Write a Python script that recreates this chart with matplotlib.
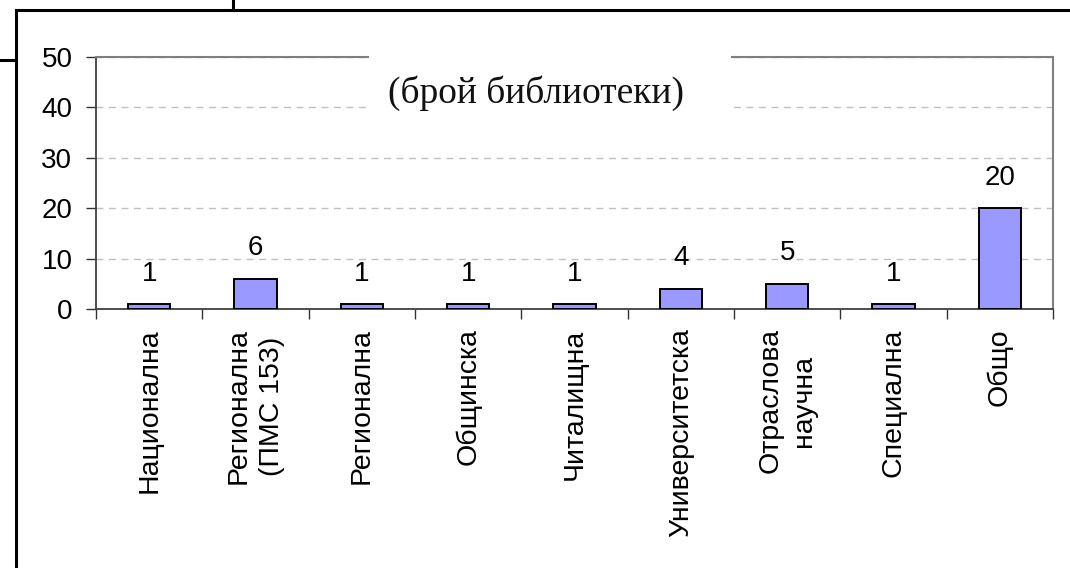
import matplotlib
matplotlib.use("Agg")
import matplotlib.pyplot as plt
from matplotlib.lines import Line2D
from matplotlib.patches import Rectangle
import numpy as np

categories = ["Национална", "Регионална\n(ПМС 153)", "Регионална", "Общинска",
              "Читалищна", "Университетска", "Отраслова\nнаучна", "Специална", "Общо"]
values = [1, 6, 1, 1, 1, 4, 5, 1, 20]
yticks = [0, 10, 20, 30, 40, 50]
title = "(брой библиотеки)"

plt.rcParams['font.family'] = ['Liberation Sans', 'DejaVu Sans']

fig = plt.figure(figsize=(10.7, 5.68), dpi=100)
fig.patch.set_facecolor('white')
ax = fig.add_axes([96/1070, 1-309/568, (1053-96)/1070, (309-57)/568])

x = np.arange(len(categories))
ax.bar(x, values, width=0.4, color='#9999FF', edgecolor='black', linewidth=1.4, zorder=3)

for xi, v in zip(x, values):
    ax.annotate(str(v), (xi, v), xytext=(0, 12.5), textcoords='offset points',
                ha='center', va='bottom', fontsize=20, color='black')

ax.set_xlim(-0.5, len(categories) - 0.5)
ax.set_ylim(0, 50)
ax.set_yticks(yticks)
ax.set_yticklabels([str(t) for t in yticks], fontsize=20)
ax.set_xticks(x)
ax.set_xticklabels(categories, rotation=90, fontsize=20.5, multialignment='center',
                   linespacing=1.35)
ax.set_xticks(np.arange(len(categories) + 1) - 0.5, minor=True)
ax.tick_params(axis='x', which='major', length=0, pad=14)
ax.tick_params(axis='x', which='minor', length=7, width=1, color='#333333', direction='out')
ax.tick_params(axis='y', which='major', length=7, width=1, color='#333333', direction='out', pad=10)

ax.yaxis.grid(True, linestyle=(0, (5, 4)), color='#c0c0c0', linewidth=1, zorder=0)
ax.set_axisbelow(True)

for s in ['left', 'bottom']:
    ax.spines[s].set_color('#404040')
    ax.spines[s].set_linewidth(1.3)
for s in ['top', 'right']:
    ax.spines[s].set_color('#808080')
    ax.spines[s].set_linewidth(1.5)

# title box covering top border
fig.patches.append(Rectangle((369/1070, 1-120/568), (731-369)/1070, 70/568,
                             transform=fig.transFigure, facecolor='white',
                             edgecolor='none', zorder=5))
fig.text(535.5/1070, 1-103/568, title, ha='center', va='baseline',
         fontsize=27, family=['Liberation Serif', 'DejaVu Serif'], color='#111111', zorder=6)

# outer frame lines
lw = 2.2
fig.add_artist(Line2D([16/1070, 1.0], [1-10/568, 1-10/568], transform=fig.transFigure, color='black', lw=lw))
fig.add_artist(Line2D([16/1070, 16/1070], [0, 1-10/568], transform=fig.transFigure, color='black', lw=lw))
fig.add_artist(Line2D([233/1070, 233/1070], [1-10/568, 1.0], transform=fig.transFigure, color='black', lw=lw))
fig.add_artist(Line2D([0, 16/1070], [1-60/568, 1-60/568], transform=fig.transFigure, color='black', lw=lw))

fig.savefig('out.png', dpi=100, facecolor='white')
